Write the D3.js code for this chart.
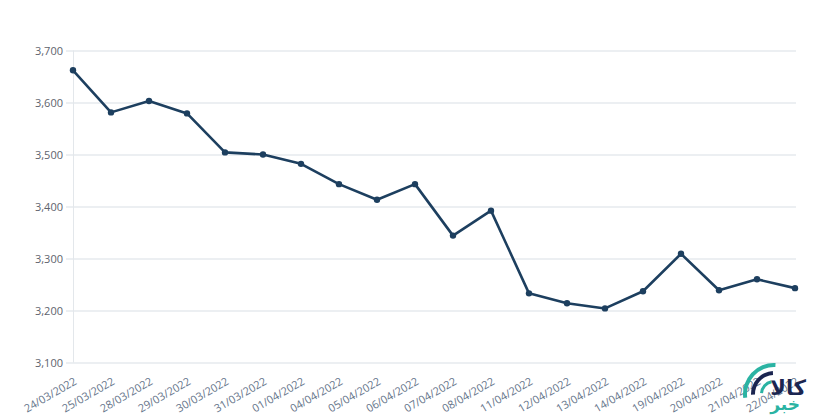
<!DOCTYPE html>
<html>
<head>
<meta charset="utf-8">
<script src="https://cdn.jsdelivr.net/npm/d3@7"></script>
<style>
  html, body { margin: 0; padding: 0; background: #fff; }
  svg { display: block; font-family: "Open Sans", sans-serif; }
</style>
</head>
<body>
<svg id="chart" width="816" height="415"></svg>
<script>
// dates on the x axis
const dates = [
  "24/03/2022", "25/03/2022", "28/03/2022", "29/03/2022", "30/03/2022",
  "31/03/2022", "01/04/2022", "04/04/2022", "05/04/2022", "06/04/2022",
  "07/04/2022", "08/04/2022", "11/04/2022", "12/04/2022", "13/04/2022",
  "14/04/2022", "19/04/2022", "20/04/2022", "21/04/2022", "22/04/2022"
];
// closing values
const values = [
  3662, 3581, 3603, 3579, 3504,
  3500, 3482, 3443, 3413, 3443,
  3344, 3392, 3233, 3214, 3204,
  3237, 3309, 3239, 3260, 3243
];
const yTicks = [3100, 3200, 3300, 3400, 3500, 3600, 3700];

const svg = d3.select("#chart");
const gridLeft = 66, gridRight = 796;
const plotTop = 50.5, plotBottom = 362.5;

const x = d3.scalePoint()
  .domain(dates)
  .range([73, 795]);

const y = d3.scaleLinear()
  .domain([3100, 3700])
  .range([plotBottom, plotTop]);

// grid lines + y labels
const yAxis = g => g
  .attr("transform", "translate(" + gridLeft + ",0)")
  .call(d3.axisLeft(y).tickValues(yTicks).tickSize(-(gridRight - gridLeft)).tickPadding(3).tickFormat(d3.format(",")))
  .call(g => g.select(".domain").remove())
  .call(g => g.selectAll(".tick line").attr("stroke", "#d9dfe5").attr("stroke-width", 1))
  .call(g => g.selectAll(".tick text")
    .attr("fill", "#5e636d")
    .style("font-size", "11px")
    .style("font-family", "'Open Sans', sans-serif"));

svg.append("g").call(yAxis);

// thin vertical axis line
svg.append("line")
  .attr("x1", 73.5).attr("x2", 73.5)
  .attr("y1", plotTop).attr("y2", plotBottom)
  .attr("stroke", "#e3e7eb");

// x labels, rotated
const xAxis = g => g
  .attr("transform", "translate(0," + plotBottom + ")")
  .call(d3.axisBottom(x).tickSize(0))
  .call(g => g.select(".domain").remove())
  .call(g => g.selectAll(".tick text")
    .attr("x", 0).attr("y", 0).attr("dy", 0)
    .attr("transform", "translate(4,21) rotate(-30)")
    .style("text-anchor", "end")
    .attr("fill", "#66758a")
    .style("font-size", "11px")
    .style("font-family", "'Open Sans', sans-serif"));

svg.append("g").call(xAxis);

const data = dates.map((d, i) => ({ date: d, value: values[i] }));

const line = d3.line()
  .x(d => x(d.date))
  .y(d => y(d.value));

svg.append("path")
  .datum(data)
  .attr("fill", "none")
  .attr("stroke", "#1d3f5f")
  .attr("stroke-width", 2.6)
  .attr("stroke-linejoin", "round")
  .attr("d", line);

svg.append("g")
  .selectAll("circle")
  .data(data)
  .join("circle")
  .attr("cx", d => x(d.date))
  .attr("cy", d => y(d.value))
  .attr("r", 3.2)
  .attr("fill", "#1d3f5f");

// watermark logo (bottom right)
const logo = svg.append("g").attr("transform", "translate(774,394)");
const arc = d3.arc();
logo.append("path")
  .attr("d", arc({ innerRadius: 27, outerRadius: 31, startAngle: -1.7, endAngle: 0.05 }))
  .attr("fill", "#2bb3a3");
logo.append("path")
  .attr("d", arc({ innerRadius: 19, outerRadius: 23, startAngle: -1.6, endAngle: -0.05 }))
  .attr("fill", "#1b2550");
logo.append("path")
  .attr("d", arc({ innerRadius: 11, outerRadius: 14, startAngle: -1.5, endAngle: -0.2 }))
  .attr("fill", "#2bb3a3");
logo.append("text")
  .attr("x", 32).attr("y", 1)
  .attr("text-anchor", "end")
  .style("font-family", "'DejaVu Sans', sans-serif")
  .style("font-weight", "bold")
  .style("font-size", "21px")
  .attr("fill", "#1b2550")
  .text("کالا");
logo.append("text")
  .attr("x", 26).attr("y", 16)
  .attr("text-anchor", "end")
  .style("font-family", "'DejaVu Sans', sans-serif")
  .style("font-weight", "bold")
  .style("font-size", "17px")
  .attr("fill", "#2bb3a3")
  .text("خبر");
</script>
</body>
</html>
